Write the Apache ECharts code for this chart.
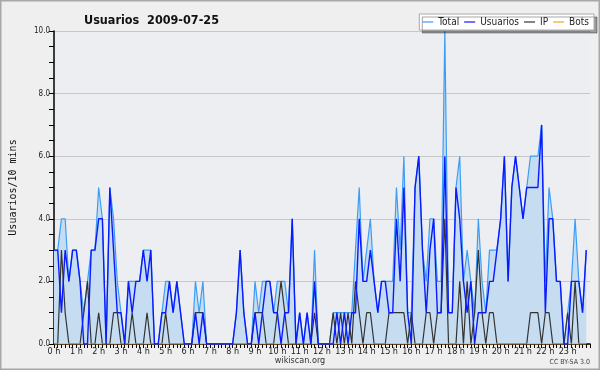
<!DOCTYPE html>
<html>
<head>
<meta charset="utf-8">
<script src="https://cdn.jsdelivr.net/npm/echarts@6/dist/echarts.min.js"></script>
<style>
  html, body { margin: 0; padding: 0; background: #efefef; }
  #usuarios { width: 600px; height: 370px; }
</style>
</head>
<body>
<div id="usuarios"></div>
<script>
// one value every 10 minutes, 144 slots for the day
var hourLabels = ['0 h','1 h','2 h','3 h','4 h','5 h','6 h','7 h','8 h','9 h','10 h','11 h',
                  '12 h','13 h','14 h','15 h','16 h','17 h','18 h','19 h','20 h','21 h','22 h','23 h'];

var total = [3,3,4,4,2,3,3,2,1,2,3,3, 5,4,0,5,4,2,1,0,2,2,2,2,
             3,3,3,0,0,1,2,2,1,2,1,0, 0,0,2,1,2,0,0,0,0,0,0,0,
             0,1,3,1,0,0,2,1,2,2,2,1, 2,2,2,1,4,0,1,0,1,0,3,0,
             0,0,0,1,1,1,1,1,1,3,5,2, 3,4,2,1,2,2,2,2,5,3,6,1,
             1,5,6,3,2,4,4,2,2,10,1,1, 5,6,2,3,2,1,4,2,1,3,3,3,
             4,6,2,5,6,5,4,5,6,6,6,7, 2,5,4,2,2,0,1,2,4,2,1,3];

var usuarios = [3,3,1,3,2,3,3,2,0,0,3,3, 4,4,0,5,3,1,1,0,2,1,2,2,
                3,2,3,0,0,1,1,2,1,2,1,0, 0,0,1,0,1,0,0,0,0,0,0,0,
                0,1,3,1,0,0,1,0,1,2,2,1, 1,0,1,1,4,0,1,0,1,0,2,0,
                0,0,0,0,1,0,1,0,1,1,4,2, 2,3,2,1,2,2,1,1,4,2,5,1,
                0,5,6,3,1,3,4,1,1,6,1,1, 5,4,2,1,2,0,1,1,1,2,2,3,
                4,6,2,5,6,5,4,5,5,5,5,7, 1,4,4,2,2,0,0,2,2,2,1,3];

var ip = [0,0,3,1,0,0,0,0,1,2,0,0, 1,0,0,0,1,1,0,0,0,1,0,0,
          0,1,0,0,0,0,1,0,0,0,0,0, 0,0,1,1,1,0,0,0,0,0,0,0,
          0,0,0,0,0,0,1,1,1,0,0,0, 1,2,1,0,0,0,0,0,0,0,1,0,
          0,0,0,1,0,1,0,1,0,2,1,0, 1,1,0,0,0,0,1,1,1,1,1,0,
          1,0,0,0,1,1,0,1,1,4,0,0, 0,2,0,2,0,1,3,1,0,1,1,0,
          0,0,0,0,0,0,0,0,1,1,1,0, 1,1,0,0,0,0,1,0,2,0,0,0];

var bots = [0,0,0,0,0,0,0,0,0,0,0,0, 0,0,0,0,0,0,0,0,0,0,0,0,
            0,0,0,0,0,0,0,0,0,0,0,0, 0,0,0,0,0,0,0,0,0,0,0,0,
            0,0,0,0,0,0,0,0,0,0,0,0, 0,0,0,0,0,0,0,0,0,0,0,0,
            0,0,0,0,0,0,0,0,0,0,0,0, 0,0,0,0,0,0,0,0,0,0,0,0,
            0,0,0,0,0,0,0,0,0,0,0,0, 0,0,0,0,0,0,0,0,0,0,0,0,
            0,0,0,0,0,0,0,0,0,0,0,0, 0,0,0,0,0,0,0,0,0,0,0,0];

function pairs(arr) {
    return arr.map(function (v, i) { return [i, v]; });
}

var font = "'DejaVu Sans Condensed', 'DejaVu Sans'";

var chart = echarts.init(document.getElementById('usuarios'));
var option = {
    animation: false,
    backgroundColor: '#efefef',
    textStyle: { fontFamily: font },
    title: {
        text: 'Usuarios  2009-07-25',
        left: 79,
        top: 9,
        textStyle: { fontSize: 12.5, fontWeight: 'bold', color: '#111', fontFamily: font }
    },
    legend: {
        data: ['Total', 'Usuarios', 'IP', 'Bots'],
        right: 6,
        top: 14,
        padding: [3, 5, 3, 3],
        icon: 'rect',
        itemWidth: 11,
        itemHeight: 1.2,
        itemGap: 5,
        backgroundColor: '#fff',
        borderColor: '#aaa',
        borderWidth: 1,
        borderRadius: 0,
        shadowColor: 'rgba(0,0,0,0.35)',
        shadowOffsetX: 3,
        shadowOffsetY: 3,
        textStyle: { fontSize: 10, color: '#222', fontFamily: font }
    },
    graphic: [{
        type: 'rect',
        shape: { x: 0.5, y: 0.5, width: 599, height: 369 },
        style: { fill: 'none', stroke: '#a8a8a8', lineWidth: 2 },
        silent: true
    }, {
        type: 'text',
        left: 'center',
        top: 356,
        style: { text: 'wikiscan.org', fontSize: 9, fill: '#333', fontFamily: font }
    }, {
        type: 'text',
        right: 10,
        top: 359,
        style: { text: 'CC BY-SA 3.0', fontSize: 7, fill: '#444', fontFamily: font }
    }],
    grid: {
        left: 46,
        right: 10,
        top: 31,
        bottom: 26,
        show: true,
        backgroundColor: '#edeef1',
        borderWidth: 0
    },
    xAxis: {
        type: 'value',
        min: 0,
        max: 144,
        interval: 6,
        axisLine: { onZero: false, lineStyle: { color: '#000', width: 1.5 } },
        axisTick: { length: 4, lineStyle: { color: '#000' } },
        minorTick: { show: true, splitNumber: 6, length: 4, lineStyle: { color: '#000' } },
        splitLine: { show: false },
        axisLabel: {
            fontSize: 9,
            color: '#222',
            margin: 3,
            formatter: function (v) { return hourLabels[v / 6] || ''; }
        }
    },
    yAxis: {
        type: 'value',
        min: 0,
        max: 10,
        interval: 2,
        name: 'Usuarios/10 mins',
        nameLocation: 'middle',
        nameGap: 36,
        nameTextStyle: { fontFamily: 'DejaVu Sans Mono', fontSize: 10, color: '#111' },
        axisLine: { show: true, lineStyle: { color: '#000', width: 1.5 } },
        axisTick: { length: 5, lineStyle: { color: '#000' } },
        minorTick: { show: true, splitNumber: 4, length: 5, lineStyle: { color: '#000' } },
        splitLine: { lineStyle: { color: '#c8c8c8', width: 1 } },
        axisLabel: {
            fontSize: 8,
            color: '#222',
            margin: 4,
            formatter: function (v) { return v.toFixed(1); }
        }
    },
    series: [{
        name: 'Total',
        type: 'line',
        symbol: 'none',
        data: pairs(total),
        lineStyle: { color: '#3d9df5', width: 1.2 },
        itemStyle: { color: '#3d9df5' },
        areaStyle: { color: '#c5dcf1', opacity: 1 },
        z: 1
    }, {
        name: 'Usuarios',
        type: 'line',
        symbol: 'none',
        data: pairs(usuarios),
        lineStyle: { color: '#0a1aff', width: 1.4 },
        itemStyle: { color: '#0a1aff' },
        z: 3
    }, {
        name: 'IP',
        type: 'line',
        symbol: 'none',
        data: pairs(ip),
        lineStyle: { color: '#333', width: 1.2 },
        itemStyle: { color: '#333' },
        z: 2
    }, {
        name: 'Bots',
        type: 'line',
        symbol: 'none',
        data: pairs(bots),
        lineStyle: { color: '#ffa21a', width: 1.2 },
        itemStyle: { color: '#ffa21a' },
        z: 2
    }]
};
chart.setOption(option);
</script>
</body>
</html>
